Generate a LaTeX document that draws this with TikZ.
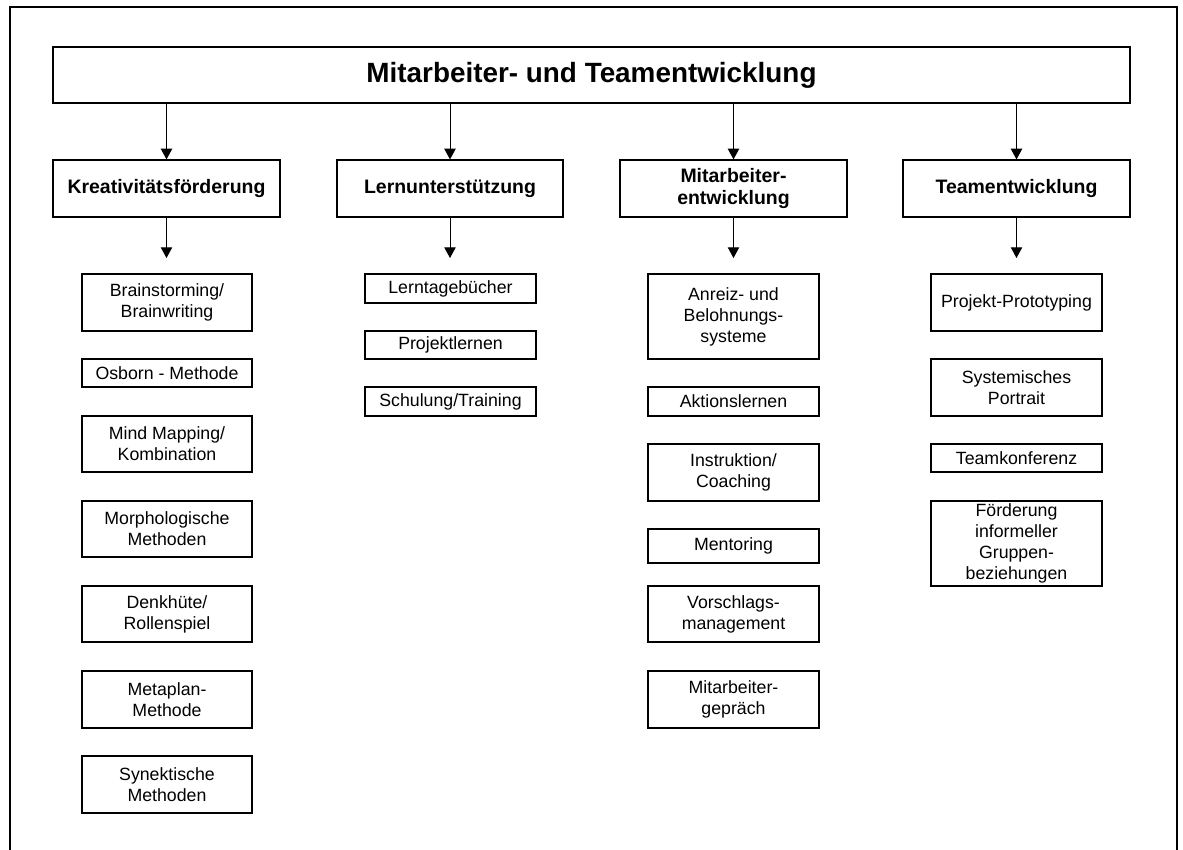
\documentclass[tikz,border=0pt]{standalone}
\usepackage{fontspec}
\setmainfont{Liberation Sans}
\usetikzlibrary{arrows.meta}
\newcommand\bx[7]{%
  \pgfmathsetmacro\bxcx{(#3+#5)/2}%
  \pgfmathsetmacro\bxcy{(#4+#6)/2}%
  \pgfmathsetmacro\bxw{(#5-#3)*0.75}%
  \pgfmathsetmacro\bxh{(#6-#4)*0.75}%
  \node[#1, minimum width=\bxw pt, minimum height=\bxh pt] (#2) at (\bxcx,\bxcy) {#7};}
\begin{document}
\begin{tikzpicture}[x=0.75pt,y=-0.75pt,
  basebox/.style={draw, line width=0.9pt, inner sep=0pt, align=center, text=black},
  titlebox/.style={basebox, font=\bfseries\fontsize{20.9pt}{24pt}\selectfont},
  headbox/.style={basebox, font=\bfseries\fontsize{14.6pt}{16pt}\selectfont},
  itembox/.style={basebox, font=\fontsize{13.3pt}{15.8pt}\selectfont},
  arr/.style={line width=0.75pt, -{Triangle[length=8pt,width=8.5pt]}},
  frame/.style={line width=2pt}]
\useasboundingbox (0,0) rectangle (1183,850);
\draw[frame] (10,851) -- (10,7) -- (1177,7) -- (1177,851);
% title
\bx{titlebox}{top}{53}{47}{1130}{103}{Mitarbeiter- und Teamentwicklung}
% level 2
\bx{headbox}{k}{53}{160}{280}{217}{Kreativitätsförderung}
\bx{headbox}{l}{337}{160}{563}{217}{Lernunterstützung}
\bx{headbox}{m}{620}{160}{847}{217}{Mitarbeiter-\\entwicklung}
\bx{headbox}{t}{903}{160}{1130}{217}{Teamentwicklung}
\foreach \n in {k,l,m,t}{\draw[arr] (top.south -| \n.north) -- (\n.north);}
% arrow ends
\coordinate (ke) at (166.5,258);
\coordinate (le) at (450,258);
\coordinate (me) at (733.5,258);
\coordinate (te) at (1016.5,258);
\draw[arr] (k.south) -- (ke);
\draw[arr] (l.south) -- (le);
\draw[arr] (m.south) -- (me);
\draw[arr] (t.south) -- (te);
% column 1
\bx{itembox}{k1}{82}{274}{252}{331}{Brainstorming/\\Brainwriting}
\bx{itembox}{k2}{82}{359}{252}{387}{Osborn - Methode}
\bx{itembox}{k3}{82}{416}{252}{472}{Mind Mapping/\\Kombination}
\bx{itembox}{k4}{82}{501}{252}{557}{Morphologische\\Methoden}
\bx{itembox}{k5}{82}{586}{252}{642}{Denkhüte/\\Rollenspiel}
\bx{itembox}{k6}{82}{671}{252}{728}{Metaplan-\\Methode}
\bx{itembox}{k7}{82}{756}{252}{813}{Synektische\\Methoden}
% column 2
\bx{itembox}{l1}{365}{274}{536}{303}{Lerntagebücher}
\bx{itembox}{l2}{365}{331}{536}{359}{Projektlernen}
\bx{itembox}{l3}{365}{387}{536}{416}{Schulung/Training}
% column 3
\bx{itembox}{m1}{648}{274}{819}{359}{Anreiz- und\\Belohnungs-\\systeme}
\bx{itembox}{m2}{648}{387}{819}{416}{Aktionslernen}
\bx{itembox}{m3}{648}{444}{819}{501}{Instruktion/\\Coaching}
\bx{itembox}{m4}{648}{529}{819}{563}{Mentoring}
\bx{itembox}{m5}{648}{586}{819}{642}{Vorschlags-\\management}
\bx{itembox}{m6}{648}{671}{819}{728}{Mitarbeiter-\\gepräch}
% column 4
\bx{itembox}{t1}{931}{274}{1102}{331}{Projekt-Prototyping}
\bx{itembox}{t2}{931}{359}{1102}{416}{Systemisches\\Portrait}
\bx{itembox}{t3}{931}{444}{1102}{472}{Teamkonferenz}
\bx{itembox}{t4}{931}{501}{1102}{586}{Förderung\\informeller\\Gruppen-\\beziehungen}
\end{tikzpicture}
\end{document}
